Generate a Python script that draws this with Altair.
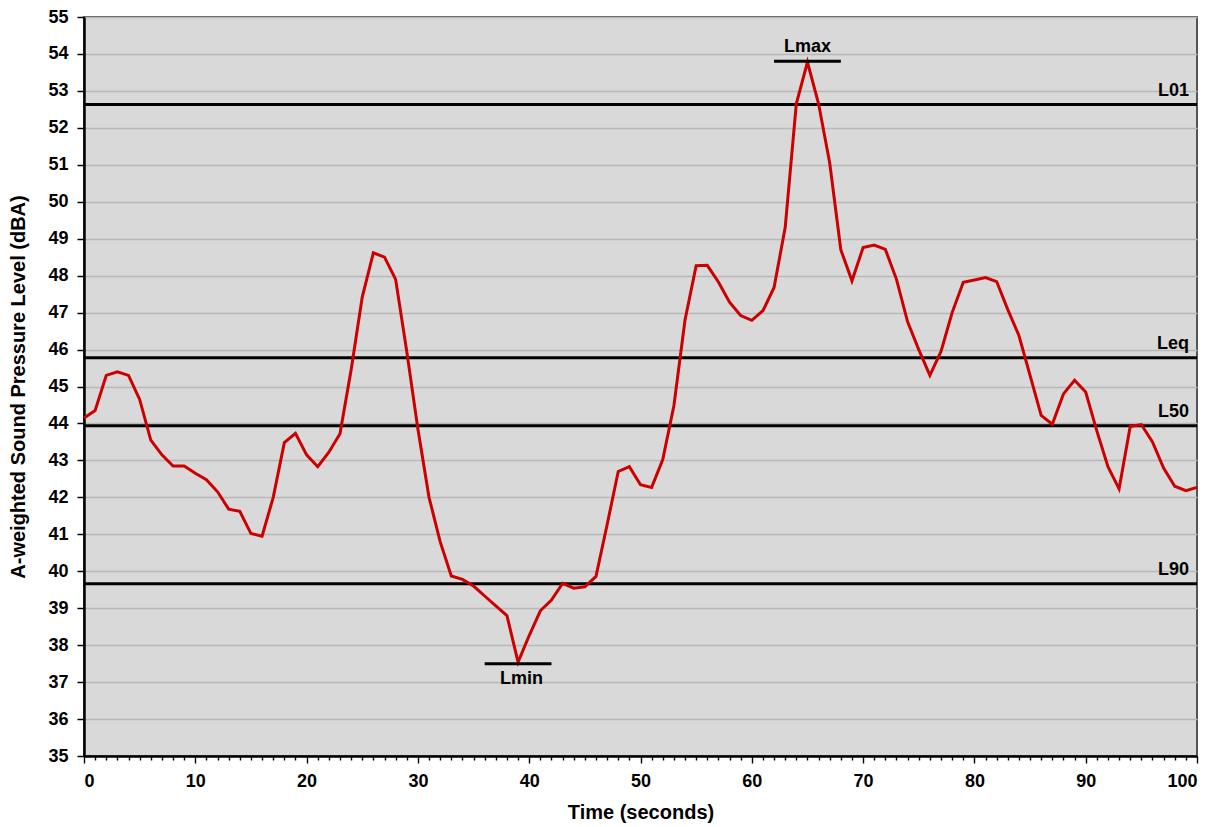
import altair as alt
import pandas as pd

# ---- data ----
time_s = list(range(0, 101))
spl_dba = [
    44.15, 44.35, 45.3, 45.4, 45.3, 44.65, 43.55, 43.15, 42.85, 42.85,
    42.65, 42.48, 42.15, 41.68, 41.62, 41.02, 40.95, 42.0, 43.48, 43.73,
    43.15, 42.83, 43.22, 43.72, 45.45, 47.42, 48.62, 48.5, 47.9, 45.95,
    43.85, 42.0, 40.8, 39.87, 39.78, 39.6, 39.33, 39.06, 38.8, 37.54,
    38.26, 38.93, 39.22, 39.67, 39.54, 39.58, 39.86, 41.26, 42.7, 42.83,
    42.34, 42.27, 43.02, 44.48, 46.8, 48.27, 48.28, 47.83, 47.28, 46.92,
    46.79, 47.05, 47.68, 49.3, 52.65, 53.78, 52.65, 51.05, 48.7, 47.86,
    48.76, 48.83, 48.71, 47.9, 46.75, 46.0, 45.3, 45.95, 47.0, 47.82,
    47.88, 47.95, 47.84, 47.08, 46.38, 45.3, 44.22, 43.98, 44.8, 45.17,
    44.85, 43.8, 42.83, 42.23, 43.92, 43.97, 43.5, 42.79, 42.3, 42.18,
    42.27,
]

level_names = ["L01", "Leq", "L50", "L90"]
level_values = [52.63, 45.78, 43.94, 39.66]

extreme_names = ["Lmax", "Lmin"]
extreme_values = [53.8, 37.5]
extreme_start = [62, 36]
extreme_end = [68, 42]
extreme_label_x = [65, 39.3]

y_ticks = list(range(35, 56))
x_ticks = list(range(0, 101))

FONT = "Liberation Sans"

series = pd.DataFrame({"t": time_s, "spl": spl_dba})
levels = pd.DataFrame({"name": level_names, "v": level_values})
extremes = pd.DataFrame({
    "name": extreme_names, "v": extreme_values,
    "x1": extreme_start, "x2": extreme_end, "xl": extreme_label_x,
})

xscale = alt.Scale(domain=[0, 100], nice=False, zero=False)
yscale = alt.Scale(domain=[35, 55], nice=False, zero=False)

x_axis = alt.Axis(
    orient="bottom",
    values=x_ticks, title="Time (seconds)", grid=False, labelOverlap=False,
    labelExpr="datum.value % 10 === 0 ? datum.label : ''",
    labelFont=FONT, labelFontSize=18, labelFontWeight="bold", labelColor="#000",
    titleFont=FONT, titleFontSize=20, titleFontWeight="bold", titleColor="#000",
    tickSize={"condition": {"test": "datum.value % 10 === 0", "value": 7}, "value": 4},
    tickWidth=1.4, tickColor="#000", labelPadding=9,
    domainColor="#000", domainWidth=2.5,
    titleBaseline="middle", titleY=56,
)
y_axis = alt.Axis(
    values=y_ticks, title="A-weighted Sound Pressure Level (dBA)",
    grid=True, gridColor="#b8b8b8", gridWidth=1.5, labelOverlap=False,
    labelFont=FONT, labelFontSize=18, labelFontWeight="bold", labelColor="#000",
    titleFont=FONT, titleFontSize=20, titleFontWeight="bold", titleColor="#000",
    tickSize=7, tickWidth=1.5, tickColor="#000", labelPadding=9,
    domainColor="#000", domainWidth=2.5,
    titleBaseline="middle", titleX=-66,
)


def xq(field):
    return alt.X(field, type="quantitative", scale=xscale, axis=x_axis)


def yq(field):
    return alt.Y(field, type="quantitative", scale=yscale, axis=y_axis)


line = alt.Chart(series).mark_line(color="#cc0000", strokeWidth=3).encode(
    x=xq("t"), y=yq("spl"),
)

level_rules = alt.Chart(levels).mark_rule(color="#000", strokeWidth=3).encode(
    y=yq("v"),
)
level_text = alt.Chart(levels).mark_text(
    font=FONT, fontSize=18, fontWeight="bold", color="#000",
    align="right", baseline="bottom", dx=-8, dy=-5,
).encode(
    x=alt.value(1113),
    y=yq("v"),
    text="name:N",
)

ext_rules = alt.Chart(extremes).mark_rule(color="#000", strokeWidth=3).encode(
    x=xq("x1"), x2="x2:Q", y=yq("v"),
)
ext_base = alt.Chart(extremes).encode(
    x=xq("xl"), y=yq("v"), text="name:N",
)
max_text = ext_base.mark_text(
    font=FONT, fontSize=18, fontWeight="bold", color="#000",
    align="center", baseline="bottom", dy=-5,
).transform_filter(alt.datum.name == "Lmax")
min_text = ext_base.mark_text(
    font=FONT, fontSize=18, fontWeight="bold", color="#000",
    align="center", baseline="top", dy=6,
).transform_filter(alt.datum.name == "Lmin")

chart = alt.layer(
    level_rules, line, ext_rules, level_text, max_text, min_text
).properties(
    width=1113, height=739,
    autosize=alt.AutoSizeParams(type="none"),
    padding={"left": 76, "top": 9, "right": 20, "bottom": 70},
    background="#ffffff",
).configure_view(
    fill="#d9d9d9", stroke="#555555", strokeWidth=2,
)

chart.save("out.html", embed_options={"renderer": "svg", "actions": False})
